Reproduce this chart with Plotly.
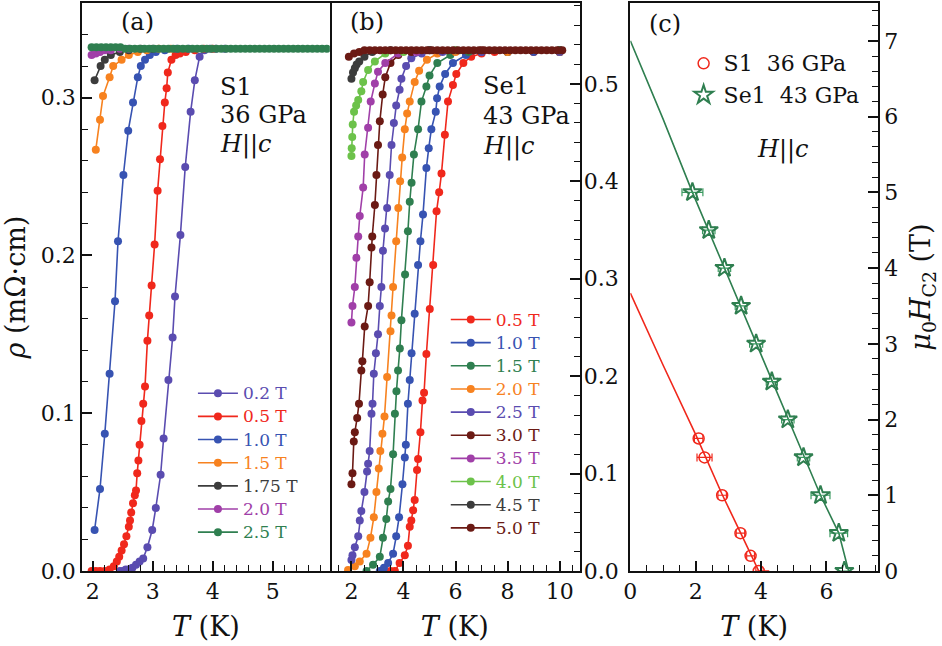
import plotly.graph_objects as go

# ---------------- Panel (a): S1, 36 GPa ----------------
A_FIELDS = ["0.2 T", "0.5 T", "1.0 T", "1.5 T", "1.75 T", "2.0 T", "2.5 T"]
A_COLORS = ["#5a4cb0", "#f0281c", "#3753b2", "#f7821f", "#3c3c3c", "#a03fa8", "#2f7f50"]

A_T_02 = [2.45, 2.50, 2.55, 2.60, 2.66, 2.72, 2.78, 2.84, 2.91, 2.99, 3.05, 3.13, 3.18, 3.26, 3.33, 3.37, 3.46, 3.54, 3.63, 3.70, 3.78, 3.86, 3.95, 4.05, 4.20]
A_R_02 = [0.000, 0.000, 0.001, 0.001, 0.002, 0.004, 0.006, 0.008, 0.015, 0.026, 0.040, 0.061, 0.084, 0.121, 0.148, 0.174, 0.213, 0.256, 0.291, 0.311, 0.326, 0.330, 0.331, 0.331, 0.331]

A_T_05 = [1.98, 2.05, 2.12, 2.20, 2.28, 2.35, 2.40, 2.44, 2.48, 2.52, 2.56, 2.60, 2.62, 2.64, 2.67, 2.70, 2.72, 2.74, 2.76, 2.78, 2.81, 2.84, 2.87, 2.91, 2.94, 2.98, 3.03, 3.08, 3.12, 3.16, 3.20, 3.23, 3.25, 3.31, 3.38, 3.45, 3.55, 3.70, 3.85, 4.00]
A_R_05 = [0.000, 0.000, 0.000, 0.000, 0.001, 0.003, 0.006, 0.009, 0.013, 0.017, 0.022, 0.028, 0.032, 0.037, 0.043, 0.048, 0.051, 0.062, 0.070, 0.080, 0.095, 0.106, 0.117, 0.146, 0.162, 0.181, 0.207, 0.241, 0.261, 0.282, 0.297, 0.306, 0.316, 0.324, 0.327, 0.328, 0.329, 0.330, 0.331, 0.331]

A_T_10 = [2.03, 2.12, 2.20, 2.28, 2.37, 2.42, 2.51, 2.59, 2.67, 2.75, 2.80, 2.87, 2.95, 3.05, 3.20, 3.40, 3.60]
A_R_10 = [0.026, 0.052, 0.087, 0.125, 0.171, 0.209, 0.251, 0.279, 0.297, 0.313, 0.320, 0.324, 0.327, 0.329, 0.330, 0.331, 0.331]

A_T_15 = [2.05, 2.12, 2.17, 2.28, 2.34, 2.48, 2.60, 2.75, 2.90, 3.10, 3.30]
A_R_15 = [0.267, 0.286, 0.301, 0.313, 0.320, 0.324, 0.327, 0.329, 0.330, 0.331, 0.331]

A_T_175 = [2.03, 2.13, 2.20, 2.30, 2.45, 2.60, 2.80, 3.00]
A_R_175 = [0.311, 0.320, 0.324, 0.327, 0.329, 0.330, 0.331, 0.331]

A_T_20 = [1.98, 2.05, 2.12, 2.20, 2.30, 2.45, 2.60]
A_R_20 = [0.327, 0.328, 0.329, 0.330, 0.330, 0.331, 0.331]

A_T_25 = [1.98, 2.06, 2.14, 2.22, 2.30, 2.38, 2.46, 2.54, 2.62, 2.70, 2.78, 2.86, 2.94, 3.02, 3.10, 3.18,
          3.26, 3.34, 3.42, 3.50, 3.58, 3.66, 3.74, 3.82, 3.90, 3.98, 4.06, 4.14, 4.22, 4.30, 4.38, 4.46,
          4.54, 4.62, 4.70, 4.78, 4.86, 4.94, 5.02, 5.10, 5.18, 5.26, 5.34, 5.42, 5.50, 5.58, 5.66, 5.74,
          5.82, 5.90]
A_R_25 = [0.332, 0.332, 0.332, 0.332, 0.332, 0.332, 0.332, 0.331, 0.331, 0.331, 0.331, 0.331, 0.331, 0.331, 0.331, 0.331,
          0.331, 0.331, 0.331, 0.331, 0.331, 0.331, 0.331, 0.331, 0.331, 0.331, 0.331, 0.331, 0.331, 0.331, 0.331, 0.331,
          0.331, 0.331, 0.331, 0.331, 0.331, 0.331, 0.331, 0.331, 0.331, 0.331, 0.331, 0.331, 0.331, 0.331, 0.331, 0.331,
          0.331, 0.331]

A_T = [A_T_02, A_T_05, A_T_10, A_T_15, A_T_175, A_T_20, A_T_25]
A_R = [A_R_02, A_R_05, A_R_10, A_R_15, A_R_175, A_R_20, A_R_25]

# ---------------- Panel (b): Se1, 43 GPa ----------------
B_FIELDS = ["0.5 T", "1.0 T", "1.5 T", "2.0 T", "2.5 T", "3.0 T", "3.5 T", "4.0 T", "4.5 T", "5.0 T"]
B_COLORS = ["#f0281c", "#3753b2", "#2f7f50", "#f7821f", "#5a4cb0", "#6b1a14", "#a03fa8", "#6cc24a", "#3c3c3c", "#6b1a14"]

B_T_05 = [3.50, 3.67, 3.85, 4.05, 4.17, 4.24, 4.30, 4.37, 4.43, 4.52, 4.56, 4.65, 4.73, 4.79, 4.88, 5.01, 5.14, 5.27, 5.37, 5.46, 5.59, 5.71, 5.90, 6.03, 6.30, 6.60, 7.00, 7.50, 8.00, 9.00, 10.00]
B_R_05 = [0.000, 0.000, 0.005, 0.010, 0.016, 0.028, 0.032, 0.0385, 0.045, 0.064, 0.071, 0.088, 0.108, 0.113, 0.1375, 0.166, 0.194, 0.228, 0.240, 0.252, 0.2765, 0.2975, 0.308, 0.315, 0.322, 0.326, 0.328, 0.329, 0.329, 0.329, 0.329]

B_T_10 = [3.09, 3.25, 3.41, 3.60, 3.72, 3.83, 3.96, 4.05, 4.09, 4.17, 4.24, 4.31, 4.43, 4.56, 4.65, 4.75, 4.88, 4.97, 5.07, 5.24, 5.29, 5.39, 5.60, 5.90, 6.40, 7.00, 8.00, 9.00, 10.00]
B_R_10 = [0.000, 0.002, 0.005, 0.011, 0.022, 0.034, 0.055, 0.072, 0.080, 0.106, 0.121, 0.138, 0.163, 0.194, 0.209, 0.226, 0.2555, 0.268, 0.280, 0.291, 0.2996, 0.307, 0.315, 0.322, 0.327, 0.329, 0.329, 0.329, 0.329]

B_T_15 = [2.58, 2.83, 3.09, 3.21, 3.34, 3.41, 3.50, 3.60, 3.67, 3.73, 3.79, 3.86, 3.92, 4.06, 4.17, 4.24, 4.31, 4.40, 4.56, 4.69, 4.88, 5.00, 5.30, 5.80, 6.50, 8.00, 10.00]
B_R_15 = [0.000, 0.004, 0.009, 0.021, 0.033, 0.044, 0.052, 0.074, 0.0996, 0.114, 0.127, 0.141, 0.159, 0.188, 0.2154, 0.234, 0.246, 0.264, 0.280, 0.2975, 0.307, 0.314, 0.322, 0.327, 0.329, 0.329, 0.329]

B_T_20 = [1.87, 2.13, 2.32, 2.58, 2.73, 2.86, 2.96, 3.05, 3.11, 3.19, 3.27, 3.37, 3.50, 3.54, 3.60, 3.72, 3.80, 3.87, 3.95, 4.05, 4.14, 4.24, 4.43, 4.60, 4.90, 5.30, 6.00, 8.00, 10.00]
B_R_20 = [0.0006, 0.003, 0.006, 0.011, 0.021, 0.034, 0.050, 0.065, 0.076, 0.087, 0.098, 0.123, 0.152, 0.162, 0.180, 0.209, 0.230, 0.247, 0.262, 0.280, 0.290, 0.2975, 0.310, 0.317, 0.324, 0.328, 0.329, 0.329, 0.329]

B_T_25 = [2.00, 2.04, 2.13, 2.26, 2.32, 2.38, 2.50, 2.60, 2.64, 2.70, 2.77, 2.81, 2.86, 2.94, 3.02, 3.09, 3.15, 3.21, 3.29, 3.37, 3.47, 3.54, 3.63, 3.72, 3.85, 3.92, 4.10, 4.30, 4.70, 5.50, 7.00, 10.00]
B_R_25 = [0.007, 0.010, 0.015, 0.022, 0.032, 0.038, 0.050, 0.063, 0.068, 0.076, 0.0996, 0.106, 0.125, 0.138, 0.150, 0.168, 0.180, 0.203, 0.217, 0.230, 0.251, 0.270, 0.284, 0.295, 0.305, 0.312, 0.320, 0.325, 0.328, 0.329, 0.329, 0.329]

B_T_30 = [2.00, 2.04, 2.09, 2.13, 2.22, 2.29, 2.38, 2.42, 2.51, 2.64, 2.70, 2.77, 2.80, 2.90, 2.96, 3.02, 3.09, 3.20, 3.30, 3.50, 3.80, 4.30, 5.00, 7.00, 10.00]
B_R_30 = [0.055, 0.062, 0.082, 0.088, 0.097, 0.106, 0.127, 0.133, 0.155, 0.168, 0.183, 0.205, 0.212, 0.232, 0.251, 0.270, 0.285, 0.302, 0.313, 0.322, 0.327, 0.329, 0.330, 0.330, 0.330]

B_T_35 = [2.00, 2.04, 2.13, 2.19, 2.26, 2.32, 2.45, 2.51, 2.64, 2.74, 2.90, 3.02, 3.30, 3.80, 4.50, 6.00, 10.00]
B_R_35 = [0.1575, 0.168, 0.180, 0.1985, 0.212, 0.225, 0.243, 0.264, 0.281, 0.2975, 0.309, 0.3165, 0.322, 0.328, 0.329, 0.330, 0.330]

B_T_40 = [2.00, 2.01, 2.03, 2.05, 2.10, 2.18, 2.26, 2.38, 2.45, 2.64, 2.90, 3.30, 4.00, 6.00, 10.00]
B_R_40 = [0.263, 0.268, 0.275, 0.283, 0.291, 0.295, 0.2986, 0.304, 0.310, 0.3175, 0.323, 0.328, 0.329, 0.330, 0.330]

B_T_45 = [2.00, 2.06, 2.13, 2.20, 2.30, 2.50, 2.80, 3.50, 5.00, 10.00]
B_R_45 = [0.312, 0.316, 0.3186, 0.321, 0.323, 0.326, 0.329, 0.330, 0.330, 0.330]

B_T_50 = [1.90, 2.10, 2.30, 2.50, 2.70, 2.90, 3.10, 3.30, 3.50, 3.70, 3.90, 4.10, 4.30, 4.50, 4.70, 4.90,
          5.10, 5.30, 5.50, 5.70, 5.90, 6.10, 6.30, 6.50, 6.70, 6.90, 7.10, 7.30, 7.50, 7.70, 7.90, 8.10,
          8.30, 8.50, 8.70, 8.90, 9.10, 9.30, 9.50, 9.70, 9.90, 10.10]
B_R_50 = [0.326, 0.328, 0.329, 0.330, 0.330, 0.330, 0.330, 0.330, 0.330, 0.330, 0.330, 0.330, 0.330, 0.330, 0.330, 0.330,
          0.330, 0.330, 0.330, 0.330, 0.330, 0.330, 0.330, 0.330, 0.330, 0.330, 0.330, 0.330, 0.330, 0.330, 0.330, 0.330,
          0.330, 0.330, 0.330, 0.330, 0.330, 0.330, 0.330, 0.330, 0.330, 0.330]

B_T = [B_T_05, B_T_10, B_T_15, B_T_20, B_T_25, B_T_30, B_T_35, B_T_40, B_T_45, B_T_50]
B_R = [B_R_05, B_R_10, B_R_15, B_R_20, B_R_25, B_R_30, B_R_35, B_R_40, B_R_45, B_R_50]

# ---------------- Panel (c): Hc2(T) ----------------
S1_T = [2.09, 2.27, 2.81, 3.37, 3.68, 3.93]
S1_H = [1.75, 1.50, 1.00, 0.50, 0.20, 0.00]
S1_TERR = [0.13, 0.23, 0.13, 0.13, 0.12, 0.09]
S1_FIT_T = [0.00, 1.00, 2.00, 2.80, 3.40, 3.93, 4.25]
S1_FIT_H = [3.67, 2.72, 1.80, 1.02, 0.48, 0.00, 0.00]

SE1_T = [1.90, 2.40, 2.88, 3.39, 3.85, 4.33, 4.82, 5.30, 5.82, 6.38, 6.55]
SE1_H = [5.00, 4.50, 4.00, 3.50, 3.00, 2.50, 2.00, 1.50, 1.00, 0.50, 0.00]
SE1_TERR = [0.32, 0.19, 0.19, 0.18, 0.20, 0.17, 0.19, 0.19, 0.29, 0.27, 0.18]
SE1_FIT_T = [0.00, 1.00, 1.90, 2.88, 3.85, 4.82, 5.82, 6.38, 6.68]
SE1_FIT_H = [7.00, 5.97, 5.00, 4.00, 3.00, 2.01, 1.00, 0.50, 0.00]

FONT = "DejaVu Serif"
BLACK = "#111111"

fig = go.Figure()

def add_curves(Ts, Rs, names, colors, xa, ya, legend):
    for T, R, n, c in zip(Ts, Rs, names, colors):
        fig.add_trace(go.Scatter(
            x=T, y=R, xaxis=xa, yaxis=ya, mode="lines+markers",
            name=f'<span style="color:{c};font-size:17px">{n}</span>',
            line=dict(color=c, width=1.6),
            marker=dict(color=c, size=8, line=dict(width=0)),
            legend=legend))

add_curves(A_T, A_R, A_FIELDS, A_COLORS, "x", "y", "legend")
add_curves(B_T, B_R, B_FIELDS, B_COLORS, "x2", "y2", "legend2")

# carrier (draws nothing) so the secondary scale on the right edge of panel (b) is rendered
fig.add_trace(go.Scatter(x=B_T_50, y=B_R_50, xaxis="x2", yaxis="y4", mode="none",
                         showlegend=False, hoverinfo="skip"))

RED = "#f0281c"
GREEN = "#2f7f50"
fig.add_trace(go.Scatter(x=S1_FIT_T, y=S1_FIT_H, xaxis="x3", yaxis="y3", mode="lines",
                         line=dict(color=RED, width=1.6), showlegend=False))
fig.add_trace(go.Scatter(x=SE1_FIT_T, y=SE1_FIT_H, xaxis="x3", yaxis="y3", mode="lines",
                         line=dict(color=GREEN, width=1.6), showlegend=False))
fig.add_trace(go.Scatter(x=S1_T, y=S1_H, xaxis="x3", yaxis="y3", mode="markers",
                         name='<span style="font-size:22px">S1  36 GPa</span>', legendgroup="s1",
                         marker=dict(symbol="circle-open", color=RED, size=11, line=dict(width=1.5)),
                         error_x=dict(type="data", array=S1_TERR, color=RED, thickness=1.2, width=4),
                         legend="legend3"))
fig.add_trace(go.Scatter(x=SE1_T, y=SE1_H, xaxis="x3", yaxis="y3", mode="markers",
                         name='<span style="font-size:22px">Se1  43 GPa</span>', legendgroup="se1",
                         marker=dict(symbol="star-open", color=GREEN, size=14, line=dict(width=2)),
                         error_x=dict(type="data", array=SE1_TERR, color="#3a9a60", thickness=1.2, width=4),
                         legend="legend3"))

L, R_, T_, B_ = 82, 63.5, 1, 75
W, H = 942, 646
PW = W - L - R_
PH = H - T_ - B_

def px(xp):
    return (xp - L) / PW

def py(yp):
    return (H - B_ - yp) / PH

tickfont = dict(family=FONT, size=22, color=BLACK)
titlefont = dict(family=FONT, size=27, color=BLACK)
minor_kw = dict(ticks="inside", ticklen=6, tickwidth=1.2, tickcolor=BLACK, showgrid=False)

def xax(domain, rng, dtick, minor, standoff=14):
    return dict(domain=domain, range=rng, dtick=dtick, tick0=0, ticks="inside", ticklen=10, tickwidth=1.5,
                tickcolor=BLACK, showline=True, linecolor=BLACK, linewidth=1.6, mirror=True,
                showgrid=False, zeroline=False, tickfont=tickfont,
                minor=dict(dtick=minor, **minor_kw),
                title=dict(text="<i>T</i> (K)", font=titlefont, standoff=standoff))

d_a = [0, px(330)]
d_b = [px(330), px(580)]
d_c = [px(630.7), 1]

fig.update_layout(
    width=W, height=H,
    margin=dict(l=L, r=R_, t=T_, b=B_),
    paper_bgcolor="white", plot_bgcolor="white",
    font=dict(family=FONT, color=BLACK),
    xaxis=xax(d_a, [1.82, 5.95], 1, 0.2),
    xaxis2=xax(d_b, [1.17, 10.77], 2, 0.5),
    xaxis3=xax(d_c, [0, 7.58], 2, 0.5),
    yaxis=dict(domain=[0, 1], anchor="x", range=[0, 0.360], dtick=0.1, tick0=0, tickformat=".1f",
               ticks="inside", ticklen=10, tickwidth=1.5, tickcolor=BLACK,
               showline=True, linecolor=BLACK, linewidth=1.6, mirror=True, showgrid=False, zeroline=False,
               tickfont=tickfont, minor=dict(dtick=0.02, **minor_kw),
               title=dict(text="<i>ρ</i> (mΩ·cm)", font=titlefont, standoff=12)),
    yaxis2=dict(domain=[0, 1], anchor="x2", side="right", range=[0, 0.360], showticklabels=False, ticks="",
                showline=True, linecolor=BLACK, linewidth=1.6, mirror=False, showgrid=False, zeroline=False),
    yaxis4=dict(overlaying="y2", anchor="x2", side="right", range=[0, 0.583],
                dtick=0.1, tick0=0, tickformat=".1f", ticks="inside", ticklen=10, tickwidth=1.5, tickcolor=BLACK,
                showline=False, showgrid=False, zeroline=False,
                tickfont=tickfont, ticklabelstandoff=3,
                minor=dict(dtick=0.02, **minor_kw)),
    yaxis3=dict(domain=[0, 1], anchor="x3", side="right", range=[0, 7.5], dtick=1, tick0=0,
                ticks="inside", ticklen=10, tickwidth=1.5, tickcolor=BLACK,
                showline=True, linecolor=BLACK, linewidth=1.6, mirror=True, showgrid=False, zeroline=False,
                tickfont=tickfont, minor=dict(dtick=0.2, **minor_kw),
                title=dict(text="<i>μ</i><sub>0</sub><i>H</i><sub>C2</sub> (T)", font=titlefont, standoff=14)),
    legend=dict(x=px(193), y=py(376), xanchor="left", yanchor="top", bgcolor="rgba(0,0,0,0)",
                font=dict(family=FONT, size=15.5, color=BLACK), itemwidth=40, tracegroupgap=0),
    legend2=dict(x=px(446), y=py(302), xanchor="left", yanchor="top", bgcolor="rgba(0,0,0,0)",
                 font=dict(family=FONT, size=15.5, color=BLACK), itemwidth=40, tracegroupgap=0),
    legend3=dict(x=px(684), y=py(42), xanchor="left", yanchor="top", bgcolor="rgba(0,0,0,0)",
                 font=dict(family=FONT, size=20, color=BLACK), itemwidth=30, tracegroupgap=2.5),
    showlegend=True,
)

ann_font = dict(family=FONT, size=24, color=BLACK)
texts = [
    ("(a)", 138, 20, "center"), ("(b)", 367, 20, "center"), ("(c)", 665, 22, "center"),
    ("S1", 218, 85, "left"), ("36 GPa", 218, 113, "left"), ("<i>H</i>||<i>c</i>", 218, 143, "left"),
    ("Se1", 481, 84, "left"), ("43 GPa", 481, 114, "left"), ("<i>H</i>||<i>c</i>", 481, 145, "left"),
    ("<i>H</i>||<i>c</i>", 783, 148, "center"),
]
for t, xp, yp, anc in texts:
    fig.add_annotation(text=t, xref="paper", yref="paper", x=px(xp), y=py(yp), showarrow=False,
                       font=ann_font, xanchor=anc, yanchor="middle", align="left")

fig.write_html("out.html", post_script="document.body.style.margin='0px';",
               config={"displayModeBar": False})
